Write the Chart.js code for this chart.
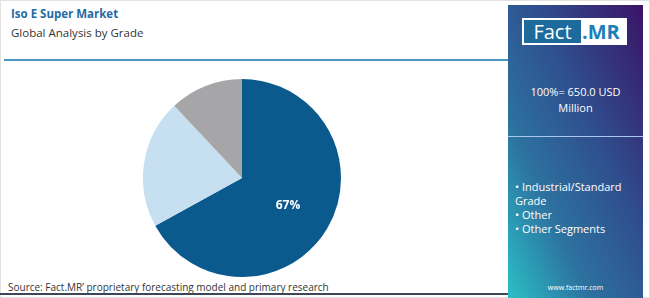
<!DOCTYPE html>
<html>
<head>
<meta charset="utf-8">
<script src="https://cdn.jsdelivr.net/npm/chart.js@4"></script>
<style>
  body { margin: 0; width: 650px; height: 298px; background: #fff; font-family: "Open Sans", "Noto Sans", sans-serif; overflow: hidden; }
  .frame { position: absolute; left: 0; top: 0; width: 648px; height: 296px; border: 1px solid #e2e2e2; }
  .title { position: absolute; left: 11px; top: 6px; font-size: 11.5px; font-weight: 700; color: #1f6ba5; }
  .sub { position: absolute; left: 11px; top: 25px; font-size: 11.5px; color: #333; }
  .topline { position: absolute; left: 4px; top: 59px; width: 504px; height: 2px; background: #4d96c2; }
  .botline { position: absolute; left: 0; top: 293px; width: 508px; height: 2px; background: #3b4658; }
  .source { position: absolute; left: 8px; top: 280px; font-size: 10px; color: #333; }
  .panel { position: absolute; left: 508px; top: 5px; width: 135px; height: 293px; background: linear-gradient(to bottom left, #3a1466 0%, #2f4f8e 40%, #2d72a0 70%, #2ac0c6 100%); color: #fff; }
  .logo { position: absolute; left: 14px; top: 13px; width: 105px; height: 27px; background: #fff; }
  .logo .f { position: absolute; left: 2px; top: 2px; width: 57px; height: 23px; background: #1c6b9c; color: #fff; font-size: 20px; line-height: 23px; text-align: center; }
  .logo .m { position: absolute; left: 60px; top: 2px; font-size: 20px; line-height: 23px; font-weight: 700; color: #1b80b8; }
  .total { position: absolute; left: 0; top: 79px; width: 135px; text-align: center; font-size: 11px; line-height: 16px; }
  .divider { position: absolute; left: 0; top: 131px; width: 135px; height: 1px; background: #a9c8ec; }
  .items { position: absolute; left: 7px; top: 175px; font-size: 11px; line-height: 14px; }
  .url { position: absolute; left: 0; top: 278px; width: 135px; text-align: center; font-size: 7px; }
  #box { position: absolute; left: 143px; top: 79px; width: 198px; height: 198px; }
</style>
</head>
<body>
<div class="frame"></div>
<div class="title">Iso E Super Market</div>
<div class="sub">Global Analysis by Grade</div>
<div class="topline"></div>
<div id="box"><canvas id="pie"></canvas></div>
<div class="source">Source: Fact.MR’ proprietary forecasting model and primary research</div>
<div class="botline"></div>
<div class="panel">
  <div class="logo"><div class="f">Fact</div><div class="m">.MR</div></div>
  <div class="total">100%= 650.0 USD<br>Million</div>
  <div class="divider"></div>
  <div class="items">• Industrial/Standard<br>Grade<br>• Other<br>• Other Segments</div>
  <div class="url">www.factmr.com</div>
</div>
<script>
// data
let segments = ["Industrial/Standard Grade", "Other", "Other Segments"];
let shares = [67, 21, 12];
let colors = ["#0b5a8e", "#c6e0f2", "#a6a6a8"];
let shownLabels = ["67%", "", ""];

// draw the label inside the big slice
const sliceLabels = {
    id: "sliceLabels",
    afterDatasetsDraw(chart) {
        let ctx = chart.ctx;
        let arcs = chart.getDatasetMeta(0).data;
        arcs.forEach((arc, i) => {
            if (!shownLabels[i]) return;
            let mid = (arc.startAngle + arc.endAngle) / 2;
            let r = arc.outerRadius * 0.54;
            ctx.save();
            ctx.fillStyle = "#fff";
            ctx.font = "bold 12px 'Open Sans', sans-serif";
            ctx.textAlign = "center";
            ctx.textBaseline = "middle";
            ctx.fillText(shownLabels[i], arc.x + Math.cos(mid) * r, arc.y + Math.sin(mid) * r);
            ctx.restore();
        });
    }
};

new Chart(document.getElementById("pie"), {
    type: "pie",
    data: {
        labels: segments,
        datasets: [{ data: shares, backgroundColor: colors, borderWidth: 0 }]
    },
    options: {
        responsive: true,
        maintainAspectRatio: false,
        animation: false,
        layout: { padding: 0 },
        plugins: { legend: { display: false }, tooltip: { enabled: false } }
    },
    plugins: [sliceLabels]
});
</script>
</body>
</html>
